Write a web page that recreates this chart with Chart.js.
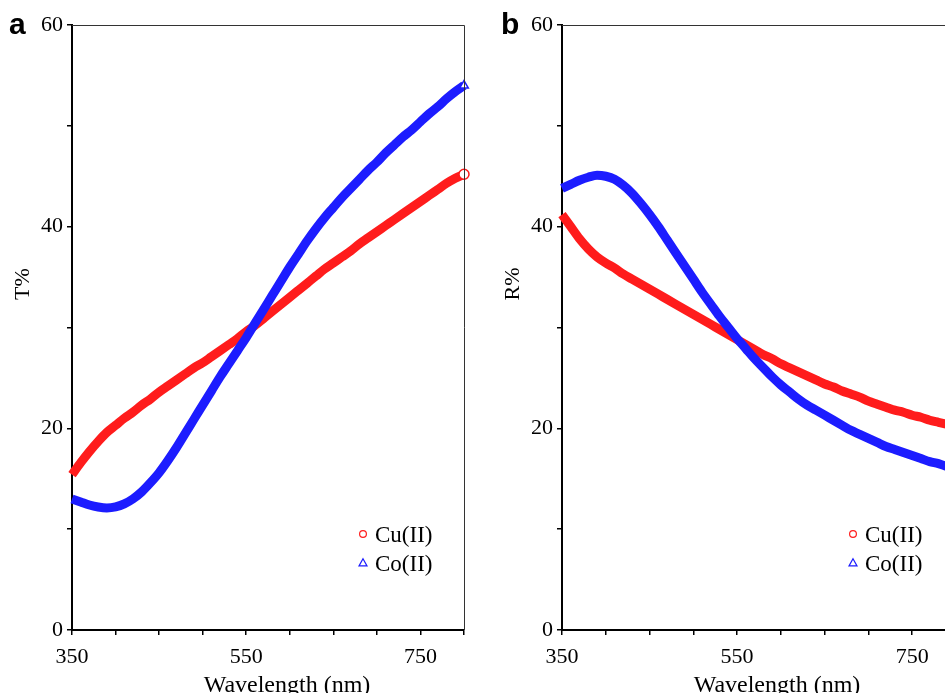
<!DOCTYPE html>
<html>
<head>
<meta charset="utf-8">
<script src="https://cdn.jsdelivr.net/npm/chart.js@4.4.1/dist/chart.umd.min.js"></script>
<style>
  html, body { margin: 0; padding: 0; background: #fff; }
  body { width: 945px; height: 693px; overflow: hidden; position: relative; }
  canvas { position: absolute; top: 0; }
  #chartA { left: 0; }
  #chartB { left: 490px; }
</style>
</head>
<body>
<canvas id="chartA" width="490" height="693"></canvas>
<canvas id="chartB" width="500" height="693"></canvas>
<script>
// wavelength grid (nm), read every 10 nm off the figure
const wavelengths = [350, 360, 370, 380, 390, 400, 410, 420, 430, 440,
  450, 460, 470, 480, 490, 500, 510, 520, 530, 540,
  550, 560, 570, 580, 590, 600, 610, 620, 630, 640,
  650, 660, 670, 680, 690, 700, 710, 720, 730, 740,
  750, 760, 770, 780, 790, 800];

// panel a: transmittance T%
const transCu = [15.4, 16.6, 17.7, 18.7, 19.6, 20.3, 21.0, 21.6, 22.3, 22.9,
  23.6, 24.2, 24.8, 25.4, 26.0, 26.5, 27.1, 27.7, 28.3, 28.9,
  29.6, 30.2, 30.9, 31.6, 32.3, 33.0, 33.7, 34.4, 35.1, 35.8,
  36.4, 37.0, 37.6, 38.3, 38.9, 39.5, 40.1, 40.7, 41.3, 41.9,
  42.5, 43.1, 43.7, 44.3, 44.8, 45.2];
const transCo = [13.0, 12.7, 12.4, 12.2, 12.1, 12.2, 12.5, 13.0, 13.7, 14.6,
  15.6, 16.8, 18.1, 19.5, 20.9, 22.3, 23.7, 25.1, 26.4, 27.7,
  29.0, 30.4, 31.8, 33.2, 34.6, 36.0, 37.3, 38.6, 39.8, 40.9,
  41.9, 42.9, 43.8, 44.7, 45.6, 46.4, 47.3, 48.1, 48.9, 49.6,
  50.4, 51.2, 51.9, 52.7, 53.4, 54.0];

// panel b: reflectance R%
const reflCu = [41.2, 40.0, 38.8, 37.8, 37.0, 36.4, 35.9, 35.3, 34.8, 34.3,
  33.8, 33.3, 32.8, 32.3, 31.8, 31.3, 30.8, 30.3, 29.8, 29.3,
  28.8, 28.3, 27.8, 27.3, 26.9, 26.4, 26.0, 25.6, 25.2, 24.8,
  24.4, 24.1, 23.7, 23.4, 23.1, 22.7, 22.4, 22.1, 21.8, 21.6,
  21.3, 21.1, 20.8, 20.6, 20.4, 20.2];
const reflCo = [43.8, 44.2, 44.6, 44.9, 45.1, 45.0, 44.7, 44.1, 43.3, 42.3,
  41.2, 40.0, 38.7, 37.4, 36.1, 34.8, 33.5, 32.3, 31.1, 30.0,
  28.9, 27.9, 26.9, 26.0, 25.1, 24.3, 23.6, 22.9, 22.3, 21.8,
  21.3, 20.8, 20.3, 19.8, 19.4, 19.0, 18.6, 18.2, 17.9, 17.6,
  17.3, 17.0, 16.7, 16.5, 16.2, 16.0];

const seriesNames = ["Cu(II)", "Co(II)"];
const xTickLabels = [350, 550, 750];
const yTickLabels = [0, 20, 40, 60];

const RED = "#ff1c1c";
const BLUE = "#1c1cff";
const SERIF = "'Liberation Serif', 'Times New Roman', serif";

function markerPath(ctx, style, x, y, r) {
  ctx.beginPath();
  if (style === "triangle") {
    ctx.moveTo(x, y - r);
    ctx.lineTo(x + r * 0.95, y + r * 0.7);
    ctx.lineTo(x - r * 0.95, y + r * 0.7);
    ctx.closePath();
  } else {
    ctx.arc(x, y, r, 0, Math.PI * 2);
  }
}

// frame, panel letter, axis titles and the inset legend
const decor = {
  id: "decor",
  afterDraw(chart, args, opts) {
    const { ctx, chartArea: a } = chart;
    ctx.save();
    ctx.strokeStyle = "#333";
    ctx.lineWidth = 1;
    ctx.beginPath();
    ctx.moveTo(a.left, a.top + 0.5);
    ctx.lineTo(a.right + 0.5, a.top + 0.5);
    ctx.lineTo(a.right + 0.5, a.bottom);
    ctx.stroke();

    ctx.fillStyle = "#000";
    ctx.font = "bold 30px 'Liberation Sans', Arial, sans-serif";
    ctx.textAlign = "left";
    ctx.textBaseline = "alphabetic";
    ctx.fillText(opts.letter, opts.letterX, 34);

    ctx.font = "24px " + SERIF;
    ctx.textAlign = "center";
    ctx.fillText("Wavelength (nm)", a.left + 215, 692);
    ctx.save();
    ctx.translate(29, 284);
    ctx.rotate(-Math.PI / 2);
    ctx.font = "22px " + SERIF;
    ctx.fillText(opts.yTitle, 0, 0);
    ctx.restore();

    ctx.font = "23px " + SERIF;
    ctx.textAlign = "left";
    chart.data.datasets.forEach((ds, i) => {
      const y = 534 + i * 29;
      const x = a.left + 291;
      ctx.strokeStyle = ds.borderColor;
      ctx.lineWidth = 1.2;
      ctx.fillStyle = "#fff";
      markerPath(ctx, ds.pointStyle, x, y, ds.pointStyle === "triangle" ? 4.2 : 3.4);
      ctx.fill();
      ctx.stroke();
      ctx.fillStyle = "#000";
      ctx.fillText(ds.label, x + 12, y + 7.5);
    });
    ctx.restore();
  }
};

function makeSeries(label, values, color, style, order) {
  return {
    label,
    data: wavelengths.map((w, i) => ({ x: w, y: values[i] })),
    borderColor: color,
    backgroundColor: "#fff",
    borderWidth: 9,
    borderJoinStyle: "round",
    cubicInterpolationMode: "monotone",
    clip: 12,
    pointStyle: style,
    pointRadius: c => (c.dataIndex === values.length - 1 ? 5 : 0),
    pointBorderWidth: 1.5,
    pointBackgroundColor: "#fff",
    pointBorderColor: color,
    order,
  };
}

function axisCommon() {
  return {
    grid: { drawOnChartArea: false, drawTicks: true, tickLength: 5, color: "#000", lineWidth: 1.5 },
    border: { display: true, color: "#000", width: 2 },
  };
}

function makeOptions(letter, letterX, yTitle, padRight) {
  return {
    responsive: false,
    animation: false,
    layout: { padding: { top: 25, right: padRight, left: 0, bottom: 0 } },
    plugins: {
      legend: { display: false },
      tooltip: { enabled: false },
      decor: { letter, letterX, yTitle },
    },
    scales: {
      x: {
        type: "linear",
        min: 350,
        max: 800,
        afterFit: s => { s.height = 63; },
        ticks: {
          stepSize: 50,
          autoSkip: false,
          maxRotation: 0,
          padding: 9,
          color: "#000",
          font: { family: SERIF, size: 22 },
          callback: v => (xTickLabels.includes(v) ? String(v) : ""),
        },
        ...axisCommon(),
      },
      y: {
        min: 0,
        max: 60,
        afterFit: s => { s.width = 72; },
        ticks: {
          stepSize: 10,
          padding: 4,
          color: "#000",
          font: { family: SERIF, size: 22 },
          callback: v => (yTickLabels.includes(v) ? String(v) : ""),
        },
        ...axisCommon(),
      },
    },
  };
}

new Chart(document.getElementById("chartA"), {
  type: "line",
  data: {
    datasets: [
      makeSeries(seriesNames[0], transCu, RED, "circle", 1),
      makeSeries(seriesNames[1], transCo, BLUE, "triangle", 0),
    ],
  },
  options: makeOptions("a", 9, "T%", 26),
  plugins: [decor],
});

new Chart(document.getElementById("chartB"), {
  type: "line",
  data: {
    datasets: [
      makeSeries(seriesNames[0], reflCu, RED, "circle", 1),
      makeSeries(seriesNames[1], reflCo, BLUE, "triangle", 0),
    ],
  },
  options: makeOptions("b", 11, "R%", 34),
  plugins: [decor],
});
</script>
</body>
</html>
